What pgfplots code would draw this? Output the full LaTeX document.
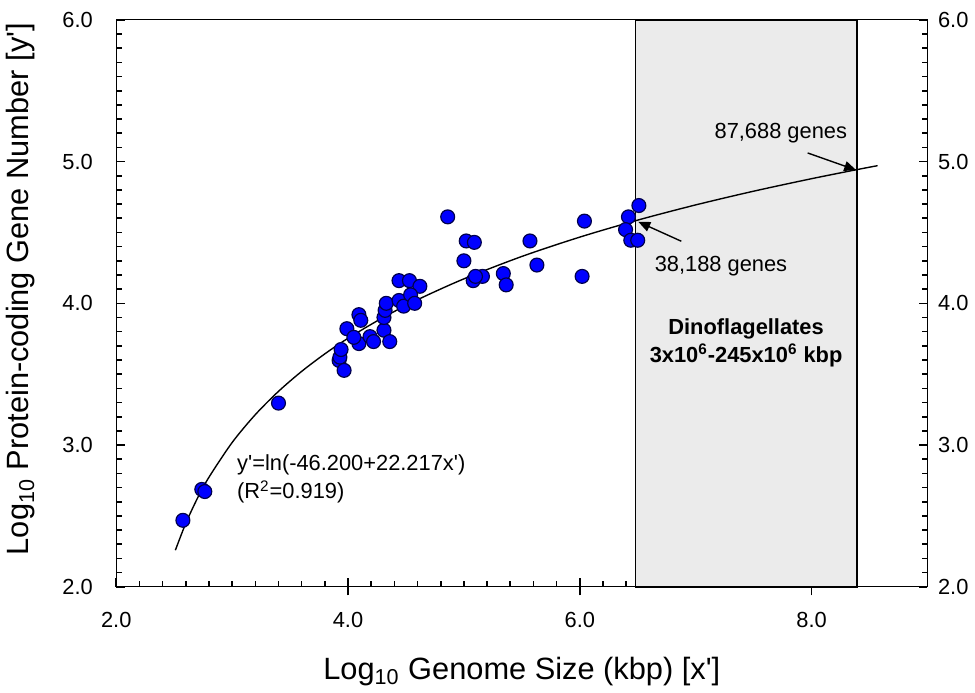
\documentclass[border=0pt]{standalone}
\usepackage{pgfplots}
\pgfplotsset{compat=1.18}
\usepackage{fontspec}
\setmainfont{Liberation Sans}
\usetikzlibrary{arrows.meta}
\begin{document}
\begin{tikzpicture}
\begin{axis}[
  at={(0,0)}, anchor=south west,
  scale only axis, width=408.5pt, height=285.5pt,
  xmin=2, xmax=9, ymin=2, ymax=6,
  xtick={2,4,6,8}, xticklabels={2.0,4.0,6.0,8.0},
  ytick={2,3,4,5,6}, yticklabels={2.0,3.0,4.0,5.0,6.0},
  minor x tick num=9, minor y tick num=9,
  xtick pos=bottom, ytick pos=left,
  tick style={black, thick},
  extra x ticks={4,6,8}, extra x tick labels={},
  extra x tick style={tick align=outside},
  tick label style={font=\fontsize{11}{13}\selectfont},
  xticklabel style={yshift=-9.3pt},
  yticklabel style={xshift=-8.3pt},
  xlabel={Log\textsubscript{10} Genome Size (kbp) [x\textquotesingle]},
  ylabel={Log\textsubscript{10} Protein-coding Gene Number [y\textquotesingle]},
  label style={font=\fontsize{15.5}{18}\selectfont},
  xlabel style={at={(axis description cs:0.5,-0.163)}, anchor=base},
  ylabel style={at={(axis description cs:-0.1175,0.525)}, anchor=center},
  clip=false,
]
\addplot[draw=black, line width=0.8pt, fill=black!8] coordinates {
(6.48,2) (6.48,6) (8.39,6) (8.39,2)} -- cycle;
\addplot[only marks, mark=*, mark size=3.5pt,
  mark options={fill=blue, draw=black!70!blue, line width=0.6pt}] coordinates {
(2.575,2.469) (2.738,2.687) (2.764,2.672) (3.40,3.296)
(3.923,3.597) (3.93,3.62) (3.966,3.527) (3.94,3.674) (3.99,3.821)
(4.094,3.92) (4.11,3.88) (4.094,3.716) (4.05,3.76) (4.19,3.765)
(4.22,3.73) (4.31,3.81) (4.31,3.90) (4.32,3.95) (4.33,4.0)
(4.36,3.73) (4.44,4.16) (4.44,4.02) (4.48,3.98) (4.53,4.16)
(4.62,4.12) (4.54,4.06) (4.575,4.0) (4.86,4.61) (5.02,4.44)
(5.09,4.43) (5.0,4.30) (5.08,4.16) (5.16,4.19) (5.10,4.19)
(5.34,4.21) (5.365,4.13) (5.57,4.44) (5.63,4.27) (6.02,4.19)
(6.04,4.58) (6.42,4.61) (6.395,4.52) (6.44,4.445) (6.51,4.69)
(6.50,4.445)
};
\addplot[black, line width=0.7pt, smooth] coordinates {
(2.51,2.258) (2.6,2.448) (2.7,2.6237) (2.8,2.7731) (3.0,3.018)
(3.2,3.2146) (3.4,3.3789) (3.6,3.5199) (3.8,3.6435) (4.0,3.7535)
(4.3,3.8986) (4.6,4.0254) (5.0,4.1726) (5.5,4.3307) (6.0,4.4671)
(6.5,4.5871) (7.0,4.6943) (7.5,4.7911) (8.0,4.8793) (8.39,4.9431)
(8.57,4.9712)
};
\draw[line width=0.7pt, -{Triangle[length=6pt, width=5pt]}] (axis cs:6.876,4.438) -- (axis cs:6.505,4.575);
\draw[line width=0.7pt, -{Triangle[length=6pt, width=5pt]}] (axis cs:7.966,5.061) -- (axis cs:8.385,4.94);
\node[anchor=base west, inner sep=0pt, font=\fontsize{11}{13}\selectfont] at (axis cs:6.644,4.228) {38,188 genes};
\node[anchor=base west, inner sep=0pt, font=\fontsize{11}{13}\selectfont] at (axis cs:7.16,5.16) {87,688 genes};
\node[anchor=base, inner sep=0pt, font=\bfseries\fontsize{11}{13}\selectfont] at (axis cs:7.435,3.78) {Dinoflagellates};
\node[anchor=base, inner sep=0pt, font=\bfseries\fontsize{11}{13}\selectfont] at (axis cs:7.435,3.583) {3x10\textsuperscript{6}-245x10\textsuperscript{6} kbp};
\node[anchor=base west, inner sep=0pt, font=\fontsize{11}{13}\selectfont] at (axis cs:3.04,2.82) {y\textquotesingle=ln(-46.200+22.217x\textquotesingle)};
\node[anchor=base west, inner sep=0pt, font=\fontsize{11}{13}\selectfont] at (axis cs:3.04,2.62) {(R\textsuperscript{2}=0.919)};
\end{axis}
\begin{axis}[
  at={(0,0)}, anchor=south west,
  scale only axis, width=408.5pt, height=285.5pt,
  xmin=2, xmax=9, ymin=2, ymax=6,
  axis x line=none, axis y line*=right,
  ytick={2,3,4,5,6}, yticklabels={2.0,3.0,4.0,5.0,6.0},
  minor y tick num=9,
  tick style={black, thick},
  tick label style={font=\fontsize{11}{13}\selectfont},
  yticklabel style={xshift=1.8pt},
]
\end{axis}
\path (-57pt,-51pt) rectangle (430.5pt,295.5pt);
\end{tikzpicture}
\end{document}
